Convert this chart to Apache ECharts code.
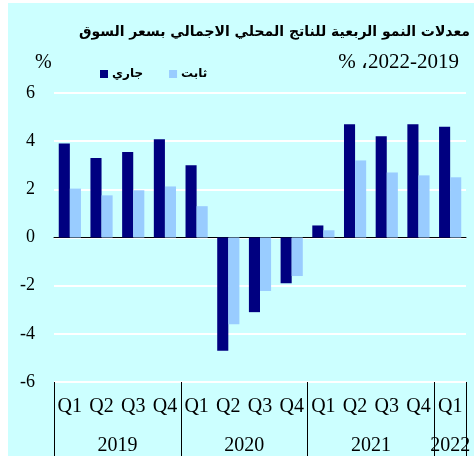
<!DOCTYPE html>
<html>
<head>
<meta charset="utf-8">
<script src="https://cdn.jsdelivr.net/npm/echarts@6/dist/echarts.min.js"></script>
<style>
  html, body { margin: 0; padding: 0; background: #ffffff; }
  #chart { position: absolute; left: 8px; top: 3px; width: 466px; height: 453px; background: #ccffff; }
</style>
</head>
<body>
<div id="chart"></div>
<script>
  // 季度标签
  var quarters = ['Q1', 'Q2', 'Q3', 'Q4', 'Q1', 'Q2', 'Q3', 'Q4', 'Q1', 'Q2', 'Q3', 'Q4', 'Q1'];
  // 年份及每年包含的季度数
  var years = ['2019', '2020', '2021', '2022'];
  var quartersPerYear = [4, 4, 4, 1];
  // 现价增长率 (جاري)
  var currentPrices = [3.9, 3.3, 3.55, 4.08, 3.0, -4.7, -3.1, -1.9, 0.5, 4.7, 4.2, 4.7, 4.6];
  // 不变价增长率 (ثابت)
  var constantPrices = [2.03, 1.75, 1.96, 2.12, 1.3, -3.6, -2.22, -1.6, 0.3, 3.2, 2.7, 2.58, 2.5];
  var yTicks = { min: -6, max: 6, interval: 2 };

  // 年份轴：以半个季度为单位的点，方便把年份放在区间中间
  var yearAxisData = [];
  var yearLabelIdx = {};
  var yearTickIdx = { 0: true };
  var pos = 0;
  for (var i = 0; i < years.length; i++) {
    yearLabelIdx[pos + quartersPerYear[i]] = years[i];
    pos += quartersPerYear[i] * 2;
    yearTickIdx[pos] = true;
  }
  for (var k = 0; k <= quarters.length * 2; k++) {
    yearAxisData.push(yearLabelIdx[k] || '');
  }

  var chart = echarts.init(document.getElementById('chart'));
  var serif = 'Liberation Serif';
  var arabic = 'DejaVu Sans';

  chart.setOption({
    backgroundColor: 'transparent',
    animation: false,
    title: [
      {
        text: 'معدلات النمو الربعية للناتج المحلي الاجمالي بسعر السوق',
        right: 4, top: 22, padding: 0,
        textStyle: { fontFamily: arabic, fontSize: 14, fontWeight: 'bold', color: '#000' }
      },
      {
        // LRO 保证显示顺序与原图一致
        text: '\u202D% \u060C2022-2019\u202C',
        right: 15, top: 49, padding: 0,
        textStyle: { fontFamily: serif, fontSize: 21, fontWeight: 'normal', color: '#000' }
      },
      {
        text: '%',
        left: 27, top: 50, padding: 0,
        textStyle: { fontFamily: serif, fontSize: 20, fontWeight: 'normal', color: '#000' }
      }
    ],
    legend: {
      left: 92, top: 65, padding: 0,
      icon: 'rect', itemWidth: 8, itemHeight: 8, itemGap: 26,
      textStyle: { fontFamily: arabic, fontSize: 12, fontWeight: 'bold', color: '#000', padding: [0, 0, 0, -1] },
      data: ['جاري', 'ثابت']
    },
    grid: { left: 46, right: 8, top: 90, bottom: 74 },
    yAxis: {
      type: 'value',
      min: yTicks.min, max: yTicks.max, interval: yTicks.interval,
      axisLine: { show: false },
      axisTick: { show: false },
      axisLabel: { margin: 19, fontFamily: serif, fontSize: 18, color: '#000' },
      splitLine: { lineStyle: { color: '#ffffff', width: 2 } }
    },
    xAxis: [
      {
        // 零轴
        type: 'category',
        data: quarters,
        axisLine: { onZero: true, lineStyle: { color: '#000', width: 1 } },
        axisTick: { length: 5, lineStyle: { color: '#000' } },
        axisLabel: { show: false },
        splitLine: { show: false }
      },
      {
        // 季度标签
        type: 'category',
        position: 'bottom',
        data: quarters,
        axisLine: { show: false, onZero: false },
        axisTick: { length: 36, lineStyle: { color: '#000' } },
        axisLabel: { interval: 0, margin: 15, fontFamily: serif, fontSize: 20, color: '#000' },
        splitLine: { show: false }
      },
      {
        // 年份标签
        type: 'category',
        position: 'bottom',
        boundaryGap: false,
        data: yearAxisData,
        axisLine: { show: false, onZero: false },
        axisTick: {
          length: 74,
          interval: function (idx) { return !!yearTickIdx[idx]; },
          lineStyle: { color: '#000' }
        },
        axisLabel: {
          interval: 0, margin: 54, fontFamily: serif, fontSize: 20, color: '#000',
          hideOverlap: false
        },
        splitLine: { show: false }
      }
    ],
    series: [
      {
        name: 'جاري',
        type: 'bar',
        xAxisIndex: 0,
        data: currentPrices,
        barGap: '0%',
        barCategoryGap: '30%',
        itemStyle: { color: '#000080' }
      },
      {
        name: 'ثابت',
        type: 'bar',
        xAxisIndex: 0,
        data: constantPrices,
        itemStyle: { color: '#99ccff' }
      }
    ]
  });
</script>
</body>
</html>
